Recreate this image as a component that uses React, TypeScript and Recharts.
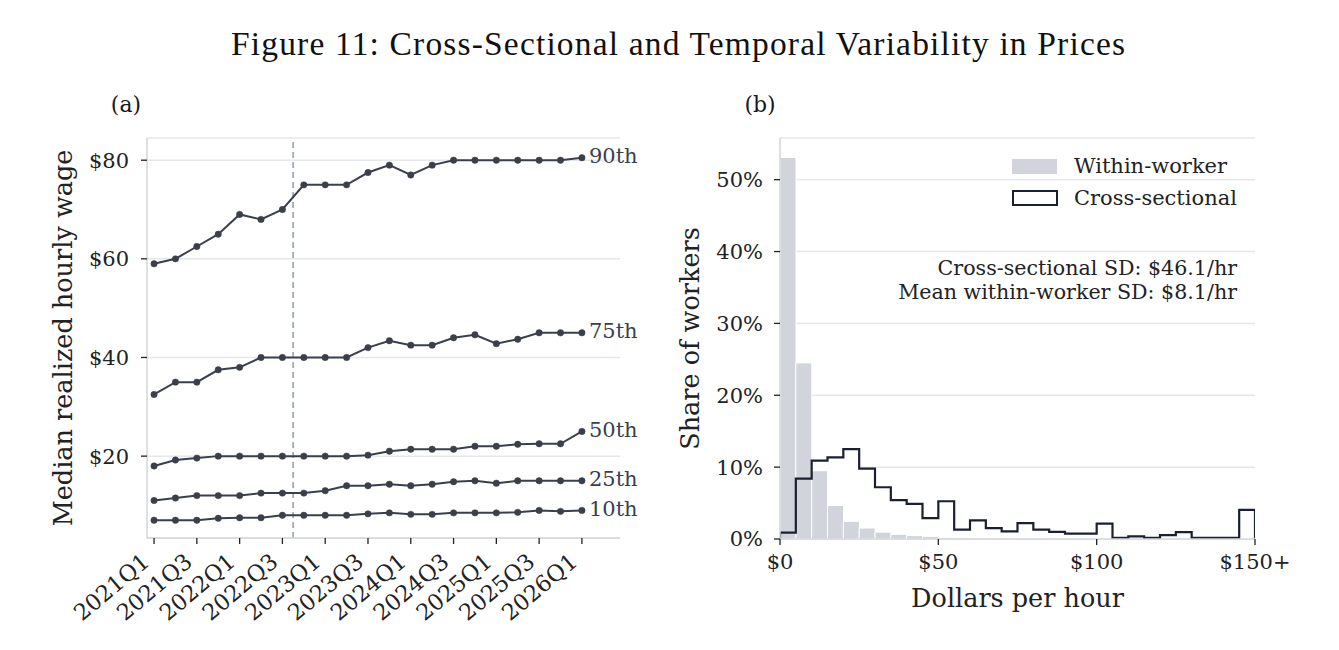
import React from 'react';
import {
  LineChart,
  Line,
  XAxis,
  YAxis,
  CartesianGrid,
  ReferenceLine,
  LabelList,
  ComposedChart,
  Bar,
  Area,
  Label,
  Legend,
} from 'recharts';

// ---------- Panel (a): median realized hourly wage by percentile ----------
const QUARTERS = [
  '2021Q1', '2021Q2', '2021Q3', '2021Q4',
  '2022Q1', '2022Q2', '2022Q3', '2022Q4',
  '2023Q1', '2023Q2', '2023Q3', '2023Q4',
  '2024Q1', '2024Q2', '2024Q3', '2024Q4',
  '2025Q1', '2025Q2', '2025Q3', '2025Q4',
  '2026Q1',
];
const P90 = [59, 60, 62.5, 65, 69, 68, 70, 75, 75, 75, 77.5, 79, 77, 79, 80, 80, 80, 80, 80, 80, 80.5];
const P75 = [32.5, 35, 35, 37.5, 38, 40, 40, 40, 40, 40, 42, 43.4, 42.5, 42.5, 44, 44.6, 42.8, 43.7, 45, 45, 45];
const P50 = [18, 19.2, 19.6, 20, 20, 20, 20, 20, 20, 20, 20.2, 21, 21.4, 21.4, 21.4, 22, 22, 22.4, 22.5, 22.5, 25];
const P25 = [11, 11.5, 12, 12, 12, 12.5, 12.5, 12.5, 13, 14, 14, 14.3, 14, 14.3, 14.8, 15, 14.5, 15, 15, 15, 15];
const P10 = [7, 7, 7, 7.4, 7.5, 7.5, 8, 8, 8, 8, 8.3, 8.5, 8.2, 8.2, 8.5, 8.5, 8.5, 8.6, 9, 8.8, 9];
const PERCENTILE_LABELS = ['90th', '75th', '50th', '25th', '10th'];
const WAGE_TICKS = [20, 40, 60, 80];
const QUARTER_TICKS = [0, 2, 4, 6, 8, 10, 12, 14, 16, 18, 20];
const BREAK_POSITION = 6.5; // between 2022Q3 and 2022Q4

// ---------- Panel (b): distribution of hourly prices ----------
const BIN_WIDTH = 5;
const WITHIN_WORKER = [
  53.1, 24.5, 9.5, 4.66, 2.46, 1.53, 0.95, 0.65, 0.47, 0.37,
  0.23, 0.19, 0.14, 0.12, 0.1, 0.08, 0.07, 0.06, 0.05, 0.05,
  0.04, 0.04, 0.03, 0.03, 0.03, 0.02, 0.02, 0.02, 0.02, 0.02,
];
const CROSS_SECTIONAL = [
  0.9, 8.4, 10.9, 11.35, 12.5, 9.8, 7.2, 5.4, 4.9, 2.9,
  5.25, 1.3, 2.6, 1.5, 1.05, 2.2, 1.3, 1.0, 0.75, 0.75,
  2.15, 0.15, 0.37, 0.15, 0.55, 0.95, 0.15, 0.15, 0.15, 4.05,
];
const DOLLAR_TICKS = [0, 50, 100, 150];
const DOLLAR_TICK_LABELS = ['$0', '$50', '$100', '$150+'];
const SHARE_TICKS = [0, 10, 20, 30, 40, 50];
const CROSS_SD = '$46.1/hr';
const WITHIN_SD = '$8.1/hr';

// ---------- styling ----------
const SERIF = '"DejaVu Serif", serif';
const INK = '#222222';
const LINE_COLOR = '#3a3f4b';
const GRID = '#e5e7eb';
const SPINE = '#d3d6dc';
const BAR_GRAY = '#d1d4db';
const OUTLINE = '#1b2030';

const wageRows = QUARTERS.map((q, i) => ({
  idx: i,
  quarter: q,
  p90: P90[i],
  p75: P75[i],
  p50: P50[i],
  p25: P25[i],
  p10: P10[i],
}));
const SERIES_KEYS = ['p90', 'p75', 'p50', 'p25', 'p10'];

const histRows = WITHIN_WORKER.map((w, i) => ({
  bin: i,
  within: w,
  cross: CROSS_SECTIONAL[i],
}));

// closed step outline of the cross-sectional histogram (bin left edges + both ends)
const crossOutline = [
  { x: 0, y: 0 },
  ...CROSS_SECTIONAL.map((v, i) => ({ x: i * BIN_WIDTH, y: v })),
  { x: CROSS_SECTIONAL.length * BIN_WIDTH, y: CROSS_SECTIONAL[CROSS_SECTIONAL.length - 1] },
  { x: CROSS_SECTIONAL.length * BIN_WIDTH, y: 0 },
];

const tickStyle = { fontFamily: SERIF, fontSize: 21, fill: INK };

const QuarterTick = (props: any) => {
  const { x, y, payload } = props;
  return (
    <g transform={`translate(${x - 3},${y + 18}) rotate(-40)`}>
      <text x={0} y={0} textAnchor="end" fontFamily={SERIF} fontSize={22.5} fill={INK}>
        {QUARTERS[payload.value]}
      </text>
    </g>
  );
};

const verticalTitle = (text: string, dxFromAxis: number) => (props: any) => {
  const vb = props.viewBox || {};
  const cx = vb.x + dxFromAxis;
  const cy = vb.y + vb.height / 2;
  return (
    <text
      x={cx}
      y={cy}
      transform={`rotate(-90, ${cx}, ${cy})`}
      textAnchor="middle"
      dominantBaseline="central"
      fontFamily={SERIF}
      fontSize={25.5}
      fill={INK}
    >
      {text}
    </text>
  );
};

const endLabel = (text: string) => (props: any) => {
  const { x, y, index } = props;
  if (index !== QUARTERS.length - 1) return null;
  return (
    <text x={x + 7} y={y - 1.5} dominantBaseline="central" fontFamily={SERIF} fontSize={21} fill={LINE_COLOR}>
      {text}
    </text>
  );
};

const HistLegend = () => (
  <div style={{ fontFamily: SERIF, fontSize: 21, color: INK }}>
    <div style={{ display: 'flex', alignItems: 'center', height: 32 }}>
      <span style={{ display: 'inline-block', width: 45, height: 15, background: BAR_GRAY, marginRight: 17 }} />
      <span>Within-worker</span>
    </div>
    <div style={{ display: 'flex', alignItems: 'center', height: 32 }}>
      <span
        style={{
          display: 'inline-block',
          width: 42,
          height: 12,
          background: '#fff',
          border: `2px solid ${OUTLINE}`,
          marginRight: 16,
        }}
      />
      <span>Cross-sectional</span>
    </div>
  </div>
);

export default function App() {
  return (
    <div
      style={{
        position: 'fixed',
        left: 0,
        top: 0,
        width: 1339,
        height: 650,
        background: '#ffffff',
        overflow: 'hidden',
      }}
    >
      {/* Titles and annotations */}
      <svg width={1339} height={650} style={{ position: 'absolute', left: 0, top: 0, pointerEvents: 'none' }}>
        <text
          x={231}
          y={55}
          textAnchor="start"
          textLength={894}
          lengthAdjust="spacing"
          fontFamily='"Liberation Serif", serif'
          fontSize={33.5}
          fill="#111111"
        >
          Figure 11: Cross-Sectional and Temporal Variability in Prices
        </text>
        <text x={126} y={112} textAnchor="middle" fontFamily={SERIF} fontSize={22} fill="#1a1a1a">
          (a)
        </text>
        <text x={760} y={112} textAnchor="middle" fontFamily={SERIF} fontSize={22} fill="#1a1a1a">
          (b)
        </text>
        <text x={1237} y={268} textAnchor="end" dominantBaseline="central" fontFamily={SERIF} fontSize={20.6} fill={INK}>
          {`Cross-sectional SD: ${CROSS_SD}`}
        </text>
        <text x={1237} y={292} textAnchor="end" dominantBaseline="central" fontFamily={SERIF} fontSize={20.6} fill={INK}>
          {`Mean within-worker SD: ${WITHIN_SD}`}
        </text>
      </svg>

      {/* Panel (a) */}
      <div style={{ position: 'absolute', left: 0, top: 0 }}>
        <LineChart
          width={650}
          height={650}
          data={wageRows}
          margin={{ top: 138, right: 30, bottom: 12, left: 87 }}
        >
          <CartesianGrid vertical={false} stroke={GRID} strokeWidth={1.5} />
          <XAxis
            dataKey="idx"
            type="number"
            domain={[-0.33, 21.78]}
            ticks={QUARTER_TICKS}
            allowDataOverflow
            interval={0}
            height={100}
            tick={<QuarterTick />}
            tickSize={6}
            tickLine={{ stroke: INK, strokeWidth: 1.3 }}
            axisLine={{ stroke: SPINE, strokeWidth: 1.5 }}
          />
          <YAxis
            type="number"
            domain={[3.4, 84.5]}
            ticks={WAGE_TICKS}
            allowDataOverflow
            width={60}
            tickFormatter={(v: number) => `$${v}`}
            tick={tickStyle}
            tickSize={6}
            tickMargin={12}
            tickLine={{ stroke: INK, strokeWidth: 1.3 }}
            axisLine={{ stroke: SPINE, strokeWidth: 1.5 }}
          >
            <Label content={verticalTitle('Median realized hourly wage', -24)} />
          </YAxis>
          <ReferenceLine x={BREAK_POSITION} stroke="#98a2b6" strokeWidth={1.6} strokeDasharray="6 4" />
          {SERIES_KEYS.map((k, i) => (
            <Line
              key={k}
              dataKey={k}
              type="linear"
              stroke={LINE_COLOR}
              strokeWidth={2}
              dot={{ r: 3.2, fill: LINE_COLOR, stroke: LINE_COLOR, strokeWidth: 0.5 }}
              isAnimationActive={false}
            >
              <LabelList dataKey={k} content={endLabel(PERCENTILE_LABELS[i])} />
            </Line>
          ))}
        </LineChart>
      </div>

      {/* Panel (b) */}
      <div style={{ position: 'absolute', left: 650, top: 0 }}>
        <ComposedChart
          width={689}
          height={650}
          data={histRows}
          margin={{ top: 138, right: 84, bottom: 51, left: 70 }}
          barCategoryGap={0}
          barGap={0}
        >
          <CartesianGrid vertical={false} stroke={GRID} strokeWidth={1.5} xAxisId="num" />
          <XAxis
            xAxisId="num"
            dataKey="x"
            type="number"
            domain={[0, 150]}
            ticks={DOLLAR_TICKS}
            allowDataOverflow
            interval={0}
            height={60}
            tickFormatter={(v: number) => DOLLAR_TICK_LABELS[DOLLAR_TICKS.indexOf(v)]}
            tick={tickStyle}
            tickSize={6}
            tickMargin={9}
            tickLine={{ stroke: INK, strokeWidth: 1.3 }}
            axisLine={{ stroke: SPINE, strokeWidth: 1.5 }}
          >
            <Label
              content={(props: any) => {
                const vb = props.viewBox || {};
                return (
                  <text
                    x={vb.x + vb.width / 2}
                    y={vb.y + 59}
                    textAnchor="middle"
                    dominantBaseline="central"
                    fontFamily={SERIF}
                    fontSize={25.5}
                    fill={INK}
                  >
                    Dollars per hour
                  </text>
                );
              }}
            />
          </XAxis>
          <XAxis xAxisId="cat" dataKey="bin" type="category" hide height={0} />
          <YAxis
            type="number"
            domain={[0, 55.8]}
            ticks={SHARE_TICKS}
            allowDataOverflow
            width={60}
            tickFormatter={(v: number) => `${v}%`}
            tick={tickStyle}
            tickSize={6}
            tickMargin={11}
            tickLine={{ stroke: INK, strokeWidth: 1.3 }}
            axisLine={{ stroke: SPINE, strokeWidth: 1.5 }}
          >
            <Label content={verticalTitle('Share of workers', -30)} />
          </YAxis>
          <Legend
            layout="horizontal"
            verticalAlign="middle"
            align="center"
            content={() => <HistLegend />}
            wrapperStyle={{ position: 'absolute', left: 362, top: 150, width: 'auto' }}
          />
          <Area
            xAxisId="cat"
            dataKey="cross"
            type="step"
            fill="#ffffff"
            fillOpacity={1}
            stroke="none"
            legendType="none"
            isAnimationActive={false}
          />
          <Bar
            xAxisId="cat"
            dataKey="within"
            fill={BAR_GRAY}
            stroke="#ffffff"
            strokeWidth={1}
            isAnimationActive={false}
          />
          <Line
            xAxisId="num"
            data={crossOutline}
            dataKey="y"
            type="stepAfter"
            stroke={OUTLINE}
            strokeWidth={2.2}
            dot={false}
            isAnimationActive={false}
          />
        </ComposedChart>
      </div>
    </div>
  );
}
